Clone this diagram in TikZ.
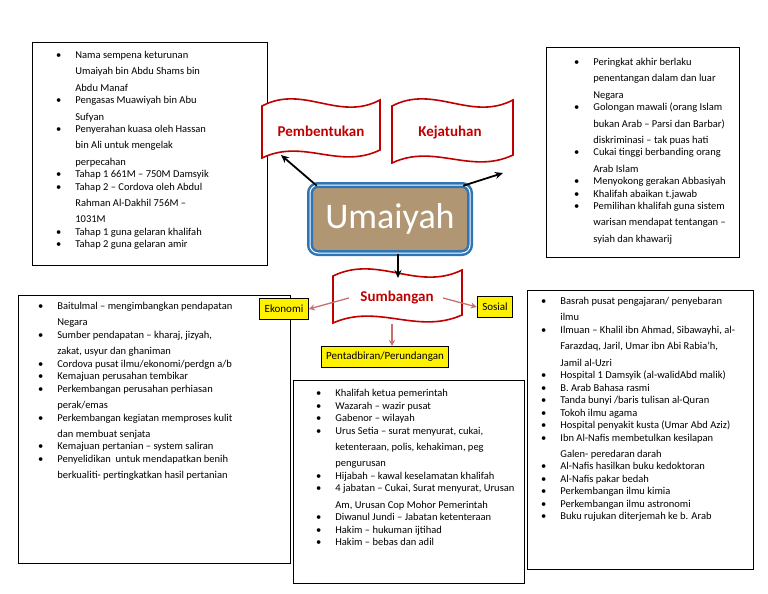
\documentclass[tikz,border=0pt]{standalone}
\usepackage{fontspec}
\setmainfont{Carlito}
\usepackage{enumitem}
\usetikzlibrary{arrows.meta,positioning,calc}
\definecolor{bannerred}{RGB}{192,0,0}
\definecolor{pinkarrow}{RGB}{205,110,110}
\definecolor{paperbrown}{RGB}{176,150,115}
\definecolor{frameblue}{RGB}{46,117,182}

% list inside a box: width, height, first-line gap, left margin
\newcommand{\startlist}[4]{%
  \begin{minipage}[t][#2pt][t]{#1pt}\vspace{#3pt}%
  \fontsize{10.5pt}{16.3pt}\selectfont\raggedright
  \begin{itemize}[leftmargin=#4pt,labelsep=14pt,itemsep=-3.8pt,topsep=0pt,parsep=0pt,partopsep=0pt,rightmargin=0pt]\raggedright}
\newcommand{\stoplist}{\end{itemize}\end{minipage}}

% wavy banner between two corners
\newcommand{\banner}[4]{%
  \draw[bannerred,line width=1.6pt,fill=white]
    (#1,#2+6) .. controls ($(#1,#2)!0.35!(#3,#2)+(0,-16)$) and ($(#1,#2)!0.65!(#3,#2)+(0,22)$) .. (#3,#2)
    -- (#3,#4-8) .. controls ($(#3,#4)!0.35!(#1,#4)+(0,12)$) and ($(#3,#4)!0.65!(#1,#4)+(0,-20)$) .. (#1,#4)
    -- cycle;}

\begin{document}
\begin{tikzpicture}[x=1pt,y=-1pt,
  listbox/.style={draw,line width=0.8pt,inner sep=0pt,anchor=north west},
  tagbox/.style={draw,line width=1pt,fill=yellow,font=\fontsize{11pt}{12pt}\selectfont,minimum height=21pt,inner sep=5pt},
  bannertext/.style={text=bannerred,font=\bfseries\fontsize{15pt}{17pt}\selectfont},
  mainarrow/.style={-{Stealth[length=8pt,width=7pt]},line width=1.8pt},
  subarrow/.style={-{Stealth[length=6pt,width=6pt]},line width=1.3pt,pinkarrow}]
  \useasboundingbox (0,0) rectangle (768,594);

  % list boxes
  \node[listbox] (pembentukanlist) at (32,42) {\startlist{235}{223}{9}{43}
    \item Nama sempena keturunan\newline Umaiyah bin Abdu Shams bin\newline Abdu Manaf
    \item Pengasas Muawiyah bin Abu\newline Sufyan
    \item Penyerahan kuasa oleh Hassan\newline bin Ali untuk mengelak\newline perpecahan
    \item Tahap 1 661M -- 750M Damsyik
    \item Tahap 2 -- Cordova oleh Abdul\newline Rahman Al-Dakhil 756M --\newline 1031M
    \item Tahap 1 guna gelaran khalifah
    \item Tahap 2 guna gelaran amir
  \stoplist};
  \node[listbox] (kejatuhanlist) at (546,47) {\startlist{193}{210}{11}{47}
    \item Peringkat akhir berlaku\newline penentangan dalam dan luar\newline Negara
    \item Golongan mawali (orang Islam\newline bukan Arab -- Parsi dan Barbar)\newline diskriminasi -- tak puas hati
    \item Cukai tinggi berbanding orang\newline Arab Islam
    \item Menyokong gerakan Abbasiyah
    \item Khalifah abaikan t.jawab
    \item Pemilihan khalifah guna sistem\newline warisan mendapat tentangan --\newline syiah dan khawarij
  \stoplist};
  \node[listbox] (ekonomilist) at (18,295) {\startlist{272}{268}{7}{39}
    \item Baitulmal -- mengimbangkan pendapatan\newline Negara
    \item Sumber pendapatan -- kharaj, jizyah,\newline zakat, usyur dan ghaniman
    \item Cordova pusat ilmu/ekonomi/perdgn a/b
    \item Kemajuan perusahan tembikar
    \item Perkembangan perusahan perhiasan\newline perak/emas
    \item Perkembangan kegiatan memproses kulit\newline dan membuat senjata
    \item Kemajuan pertanian -- system saliran
    \item Penyelidikan\ \ untuk mendapatkan benih\newline berkualiti- pertingkatkan hasil pertanian
  \stoplist};
  \node[listbox] (pentadbiranlist) at (293,380) {\startlist{231}{203}{9}{42}
    \item Khalifah ketua pemerintah
    \item Wazarah -- wazir pusat
    \item Gabenor -- wilayah
    \item Urus Setia -- surat menyurat, cukai,\newline ketenteraan, polis, kehakiman, peg\newline pengurusan
    \item Hijabah -- kawal keselamatan khalifah
    \item 4 jabatan -- Cukai, Surat menyurat, Urusan\newline Am, Urusan Cop Mohor Pemerintah
    \item Diwanul Jundi -- Jabatan ketenteraan
    \item Hakim -- hukuman ijtihad
    \item Hakim -- bebas dan adil
  \stoplist};
  \node[listbox] (sosiallist) at (527,290) {\startlist{226}{279}{7}{33}
    \item Basrah pusat pengajaran/ penyebaran\newline ilmu
    \item Ilmuan -- Khalil ibn Ahmad, Sibawayhi, al-\newline Farazdaq, Jaril, Umar ibn Abi Rabia'h,\newline Jamil al-Uzri
    \item Hospital 1 Damsyik (al-walidAbd malik)
    \item B. Arab Bahasa rasmi
    \item Tanda bunyi /baris tulisan al-Quran
    \item Tokoh ilmu agama
    \item Hospital penyakit kusta (Umar Abd Aziz)
    \item Ibn Al-Nafis membetulkan kesilapan\newline Galen- peredaran darah
    \item Al-Nafis hasilkan buku kedoktoran
    \item Al-Nafis pakar bedah
    \item Perkembangan ilmu kimia
    \item Perkembangan ilmu astronomi
    \item Buku rujukan diterjemah ke b. Arab
  \stoplist};

  % banners
  \banner{262}{100}{380}{158}
  \node[bannertext] (pembentukan) at (321,131) {Pembentukan};
  \banner{392}{100}{513}{163}
  \node[bannertext] (kejatuhan) at (450,133) {Kejatuhan};
  \banner{333}{270}{462}{323}
  \node[bannertext] (sumbangan) at (397,298) {Sumbangan};
  \coordinate (pembentukanend) at (281,155);
  \coordinate (kejatuhanend) at (503,173);
  \coordinate (sumbangantop) at (398,278);
  \coordinate (sumbanganbottom) at (392,324);

  % centre
  \node[draw=frameblue,line width=2.5pt,double=white,double distance=1pt,rounded corners=8pt,
    fill=paperbrown,text=white,minimum width=160pt,minimum height=68pt,
    font=\fontsize{36pt}{38pt}\selectfont] (umaiyah) at (390,219) {Umaiyah};

  % tags
  \node[tagbox] (ekonomi) at (284,309) {Ekonomi};
  \node[tagbox] (sosial) at (495,307) {Sosial};
  \node[tagbox] (pentadbiran) at (385,357) {Pentadbiran/Perundangan};

  % arrows
  \draw[mainarrow] ([shift={(8,2)}]umaiyah.north west) -- (pembentukanend);
  \draw[mainarrow] ([shift={(-8,2)}]umaiyah.north east) -- (kejatuhanend);
  \draw[mainarrow] ([xshift=8pt]umaiyah.south) -- (sumbangantop);
  \draw[subarrow] ([xshift=-8pt]sumbangan.west) -- (ekonomi.east);
  \draw[subarrow] ([xshift=6pt]sumbangan.east) -- (sosial.west);
  \draw[subarrow] (sumbanganbottom) -- (pentadbiran.north -| sumbanganbottom);
\end{tikzpicture}
\end{document}
